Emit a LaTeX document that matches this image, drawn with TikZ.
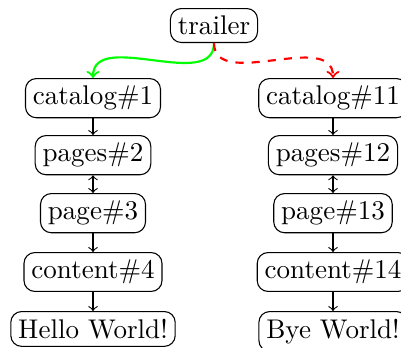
\documentclass[tikz,border=0pt]{standalone}
\usetikzlibrary{arrows}
\begin{document}
\begin{tikzpicture}[x=0.37pt,y=-0.37pt,
  box/.style={draw,rounded corners=4pt,anchor=north,inner sep=2.75pt},
  link/.style={->},
  both/.style={<->}]
\useasboundingbox (0,0) rectangle (401,347);
\node[box] (tr) at (214,8) {trailer};
\node[box] (c1) at (93,78) {catalog$\#$1};
\node[box] (p2) at (93,135) {pages$\#$2};
\node[box] (p3) at (93,193) {page$\#$3};
\node[box] (c4) at (93,252) {content$\#$4};
\node[box] (h) at (93,311) {Hello World!};
\node[box] (c11) at (333,78) {catalog$\#$11};
\node[box] (p12) at (333,135) {pages$\#$12};
\node[box] (p13) at (333,193) {page$\#$13};
\node[box] (c14) at (333,252) {content$\#$14};
\node[box] (b) at (333,311) {Bye World!};
\draw[link] (c1) -- (p2);
\draw[both] (p2) -- (p3);
\draw[link] (p3) -- (c4);
\draw[link] (c4) -- (h);
\draw[link] (c11) -- (p12);
\draw[both] (p12) -- (p13);
\draw[link] (p13) -- (c14);
\draw[link] (c14) -- (b);
\draw[->,thick,green] (tr.south) to[out=-90,in=90] (c1.north);
\draw[->,thick,red,dashed] (tr.south) to[out=-90,in=90] (c11.north);
\end{tikzpicture}
\end{document}
